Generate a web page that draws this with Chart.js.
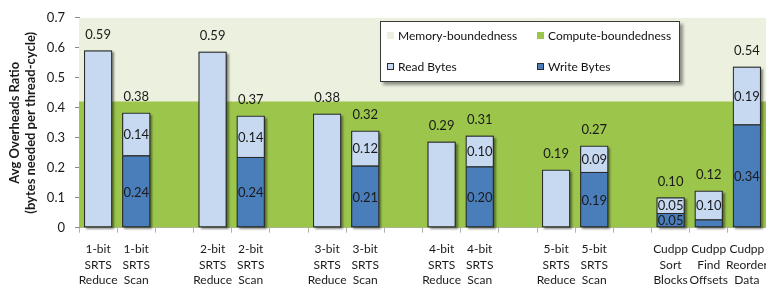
<!DOCTYPE html>
<html><head><meta charset="utf-8">
<script src="https://cdn.jsdelivr.net/npm/chart.js@4/dist/chart.umd.min.js"></script>
<style>
html,body{margin:0;padding:0;background:#fff;}
#wrap{position:relative;width:766px;height:293px;overflow:hidden;}
#legend{position:absolute;left:380px;top:21px;width:300px;height:61px;box-sizing:border-box;border:1px solid #3a3a3a;background:#fff;box-shadow:3px 3px 3px rgba(0,0,0,0.4);font:12px Lato,"DejaVu Sans",sans-serif;color:#111;}
.li{position:absolute;height:16px;line-height:16px;white-space:nowrap;}
.sq{display:inline-block;width:7px;height:7px;box-sizing:border-box;vertical-align:middle;margin-right:4px;position:relative;top:-1px;}
</style>
</head><body>
<div id="wrap"><canvas id="c" width="766" height="293"></canvas><div id="legend"></div></div>
<script>
const categories = [
  ['1-bit','SRTS','Reduce'], ['1-bit','SRTS','Scan'], '',
  ['2-bit','SRTS','Reduce'], ['2-bit','SRTS','Scan'], '',
  ['3-bit','SRTS','Reduce'], ['3-bit','SRTS','Scan'], '',
  ['4-bit','SRTS','Reduce'], ['4-bit','SRTS','Scan'], '',
  ['5-bit','SRTS','Reduce'], ['5-bit','SRTS','Scan'], '',
  ['Cudpp','Sort','Blocks'], ['Cudpp','Find','Offsets'], ['Cudpp','Reorder','Data']
];
const writeBytes = [null,0.241,null, null,0.236,null, null,0.207,null, null,0.204,null, null,0.186,null, 0.049,0.027,0.344];
const readBytes  = [0.591,0.142,null, 0.587,0.137,null, 0.380,0.116,null, 0.287,0.103,null, 0.193,0.087,null, 0.052,0.096,0.193];
const computeBoundedness = [0.42,0.42,0.42,0.42,0.42,0.42,0.42,0.42,0.42,0.42,0.42,0.42,0.42,0.42,0.42,0.42,0.42,0.42];
const memoryBoundedness  = [0.28,0.28,0.28,0.28,0.28,0.28,0.28,0.28,0.28,0.28,0.28,0.28,0.28,0.28,0.28,0.28,0.28,0.28];
const yTicks = [0,0.1,0.2,0.3,0.4,0.5,0.6,0.7];

const FONT = 'Lato, "DejaVu Sans", sans-serif';
const C_LIGHTGREEN = '#EBF1DE', C_GREEN = '#9BC54B', C_READ = '#C6D9F1', C_WRITE = '#4A7EBB', C_EDGE = '#2a2a2a';

// soft drop shadow drawn beneath each data bar (bars themselves drawn without shadow)
const shadowPlugin = {
  id: 'barShadow',
  beforeDatasetDraw(chart, args) {
    if (args.index > 1) return;
    const ctx = chart.ctx;
    ctx.save();
    ctx.shadowColor = 'rgba(0,0,0,0.45)'; ctx.shadowOffsetX = 2; ctx.shadowOffsetY = 2; ctx.shadowBlur = 2;
    ctx.fillStyle = C_EDGE;
    args.meta.data.forEach((el, i) => {
      if (chart.data.datasets[args.index].data[i] == null) return;
      const p = el.getProps(['x', 'y', 'base', 'width'], true);
      ctx.fillRect(p.x - p.width / 2, Math.min(p.y, p.base), p.width, Math.abs(p.base - p.y));
    });
    ctx.restore();
  }
};

const labelPlugin = {
  id: 'valueLabels',
  afterDatasetsDraw(chart) {
    const ctx = chart.ctx, y = chart.scales.y;
    const wMeta = chart.getDatasetMeta(0), rMeta = chart.getDatasetMeta(1);
    ctx.save();
    ctx.font = '13px ' + FONT; ctx.fillStyle = '#1a1a1a'; ctx.textAlign = 'center'; ctx.textBaseline = 'middle';
    categories.forEach((c, i) => {
      const w = writeBytes[i], r = readBytes[i];
      if (w == null && r == null) return;
      const total = (w || 0) + (r || 0);
      const x = (r != null ? rMeta.data[i] : wMeta.data[i]).x;
      ctx.fillText(total.toFixed(2), x, y.getPixelForValue(total) - 16);
      if (w != null && r != null) {
        const we = wMeta.data[i], re = rMeta.data[i];
        if (Math.abs(we.base - we.y) >= 12) ctx.fillText(w.toFixed(2), x, (we.y + we.base) / 2 + 1);
        if (Math.abs(re.base - re.y) >= 12) ctx.fillText(r.toFixed(2), x, (re.y + re.base) / 2 + 1);
      }
    });
    ctx.restore();
  }
};

const chart = new Chart(document.getElementById('c'), {
  type: 'bar',
  data: {
    labels: categories,
    datasets: [
      { label: 'Write Bytes', data: writeBytes, backgroundColor: C_WRITE, borderColor: C_EDGE, borderWidth: 1, borderSkipped: false,
        xAxisID: 'x', grouped: false, barPercentage: 0.735, categoryPercentage: 1 },
      { label: 'Read Bytes', data: readBytes, backgroundColor: C_READ, borderColor: C_EDGE, borderWidth: 1,
        borderSkipped: (ctx) => writeBytes[ctx.dataIndex] != null ? 'bottom' : false,
        xAxisID: 'x', grouped: false, barPercentage: 0.735, categoryPercentage: 1 },
      { label: 'Compute-boundedness', data: computeBoundedness, backgroundColor: C_GREEN, borderWidth: 0,
        xAxisID: 'x2', grouped: false, barPercentage: 1, categoryPercentage: 1, order: 10 },
      { label: 'Memory-boundedness', data: memoryBoundedness, backgroundColor: C_LIGHTGREEN, borderWidth: 0,
        xAxisID: 'x2', grouped: false, barPercentage: 1, categoryPercentage: 1, order: 10 }
    ]
  },
  options: {
    responsive: false, animation: false, devicePixelRatio: 1,
    layout: { padding: { top: 12, right: 0, bottom: 0, left: 0 } },
    plugins: { legend: { display: false }, tooltip: { enabled: false } },
    scales: {
      x: {
        stacked: true, offset: true,
        grid: { display: true, drawOnChartArea: false, drawTicks: true, tickLength: 5, color: '#b0b0b0', offset: true },
        border: { display: true, color: '#b0b0b0' },
        ticks: { autoSkip: false, maxRotation: 0, minRotation: 0, padding: 9, color: '#1a1a1a',
                 font: { family: FONT, size: 12, lineHeight: 1.29 } },
        afterFit(s) { s.height = 65.3; s.paddingLeft = 0; s.paddingRight = 0; }
      },
      x2: { stacked: true, offset: true, display: false, labels: categories },
      y: {
        stacked: true, min: 0, max: 0.7,
        afterBuildTicks(s) { s.ticks = yTicks.map(v => ({ value: v })); },
        ticks: { padding: 10, color: '#1a1a1a', font: { family: FONT, size: 13 },
                 callback: (v) => v === 0 ? '0' : v.toFixed(1) },
        grid: { display: true, drawOnChartArea: false, drawTicks: true, tickLength: 4, color: '#8a8a8a' },
        border: { display: true, color: '#8a8a8a' },
        title: { display: true, text: ['Avg Overheads Ratio', '(bytes needed per thread-cycle)'], color: '#1a1a1a',
                 font: { family: FONT, size: 13, weight: 'bold', lineHeight: 1.2 }, padding: { top: 7, bottom: 0 } },
        afterFit(s) { s.width = 79; }
      }
    }
  },
  plugins: [shadowPlugin, labelPlugin]
});

// legend built from the dataset labels and colours
const legendOrder = [3, 2, 1, 0];
const legendPos = [[6, 6], [156, 6], [6, 37], [156, 37]];
const lg = document.getElementById('legend');
legendOrder.forEach((di, k) => {
  const ds = chart.data.datasets[di];
  const item = document.createElement('div');
  item.className = 'li';
  item.style.left = legendPos[k][0] + 'px'; item.style.top = legendPos[k][1] + 'px';
  const sq = document.createElement('span'); sq.className = 'sq';
  sq.style.background = ds.backgroundColor;
  if (ds.borderWidth) sq.style.border = '1px solid ' + C_EDGE;
  item.appendChild(sq);
  item.appendChild(document.createTextNode(ds.label));
  lg.appendChild(item);
});
</script>
</body></html>
